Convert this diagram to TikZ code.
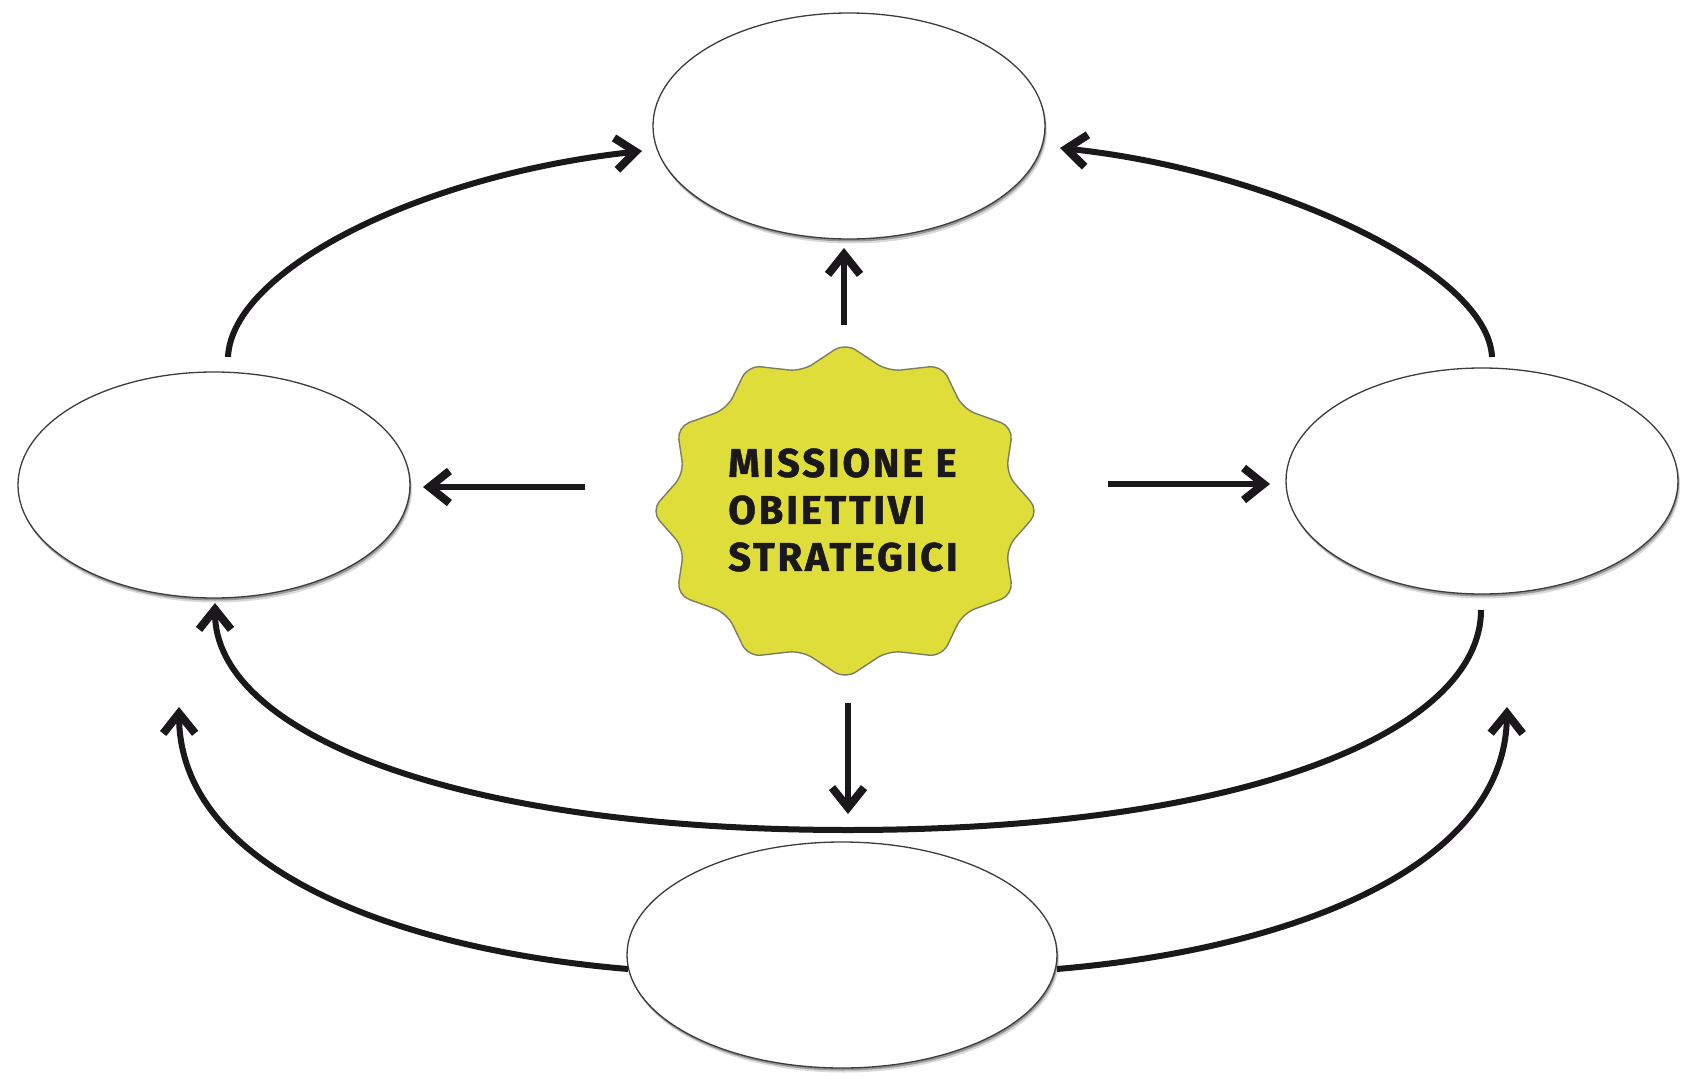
\documentclass[tikz,border=0pt]{standalone}
\usepackage{fontspec}
\usetikzlibrary{arrows.meta,shapes.geometric}
\newfontfamily\dinfont[LetterSpace=7,FakeBold=1.2]{Fira Sans}
\definecolor{starfill}{RGB}{223,221,57}
\definecolor{starline}{RGB}{125,125,100}
\definecolor{ink}{RGB}{26,24,26}
\definecolor{ovalline}{RGB}{60,60,60}
\begin{document}
\begin{tikzpicture}[x=1pt,y=-1pt,
  oval/.style={ellipse, draw=ovalline, line width=1.3pt, fill=white,
    minimum width=392pt, minimum height=226pt, inner sep=0pt,
    preaction={fill=black, opacity=0.15, transform canvas={xshift=2pt,yshift=-4.5pt}},
    preaction={fill=black, opacity=0.3, transform canvas={xshift=1pt,yshift=-2.5pt}}},
  arr/.style={draw=ink, line width=6.5pt,
    -{Straight Barb[length=20pt,width=32pt,line width=8pt]}},
  curv/.style={draw=ink, line width=6pt,
    -{Straight Barb[length=20pt,width=32pt,line width=8pt]}},
  label/.style={font=\dinfont\bfseries\fontsize{40}{47}\selectfont, text=ink, align=left, inner sep=0pt}
]
\useasboundingbox (0,0) rectangle (1690,1081);
\fill[white] (0,0) rectangle (1690,1081);

% ovals
\node[oval] (top) at (849,126) {};
\node[oval] (left) at (214,485) {};
\node[oval] (right) at (1482,481) {};
\node[oval, minimum width=430pt] (bottom) at (842,955) {};

% star badge
\draw[fill=starfill, draw=starline, line width=1.4pt, rounded corners=13pt]
  ({845+195*0.995}, 511)
  \foreach \i in {1,...,23} {
    -- ({845+195*(0.925+0.07*cos(180*\i))*cos(15*\i)}, {511-169*(0.925+0.07*cos(180*\i))*sin(15*\i)})
  } -- cycle;
\node[label] (mission) at (843,510) {MISSIONE E\\OBIETTIVI\\STRATEGICI};

% coordinates
\coordinate (tlS) at (228,357);  \coordinate (tlE) at (642,151);
\coordinate (trS) at (1492,357); \coordinate (trE) at (1060,148);
\coordinate (bbS) at (1481,610); \coordinate (bbM) at (848,830); \coordinate (bbE) at (215,603);
\coordinate (blS) at (628,969);  \coordinate (blE) at (179,707);
\coordinate (brS) at (1057,969); \coordinate (brE) at (1507,707);
\coordinate (uS) at (844,325);   \coordinate (uE) at (844,248);
\coordinate (lS) at (585,487);   \coordinate (lE) at (423,487);
\coordinate (rS) at (1108,484);  \coordinate (rE) at (1270,484);
\coordinate (dS) at (848,703);   \coordinate (dE) at (848,814);

% straight arrows
\draw[arr] (uS) -- (uE);
\draw[arr] (lS) -- (lE);
\draw[arr] (rS) -- (rE);
\draw[arr] (dS) -- (dE);

% curved arrows
\draw[curv] (tlS) .. controls (232,270) and (420,175) .. (tlE);
\draw[curv] (trS) .. controls (1488,270) and (1270,170) .. (trE);
\draw[curv] (bbS) .. controls (1481,730) and (1250,830) .. (bbM)
               .. controls (446,830) and (215,730) .. (bbE);
\draw[curv] (blS) .. controls (400,950) and (180,870) .. (blE);
\draw[curv] (brS) .. controls (1285,950) and (1505,870) .. (brE);
\end{tikzpicture}
\end{document}
